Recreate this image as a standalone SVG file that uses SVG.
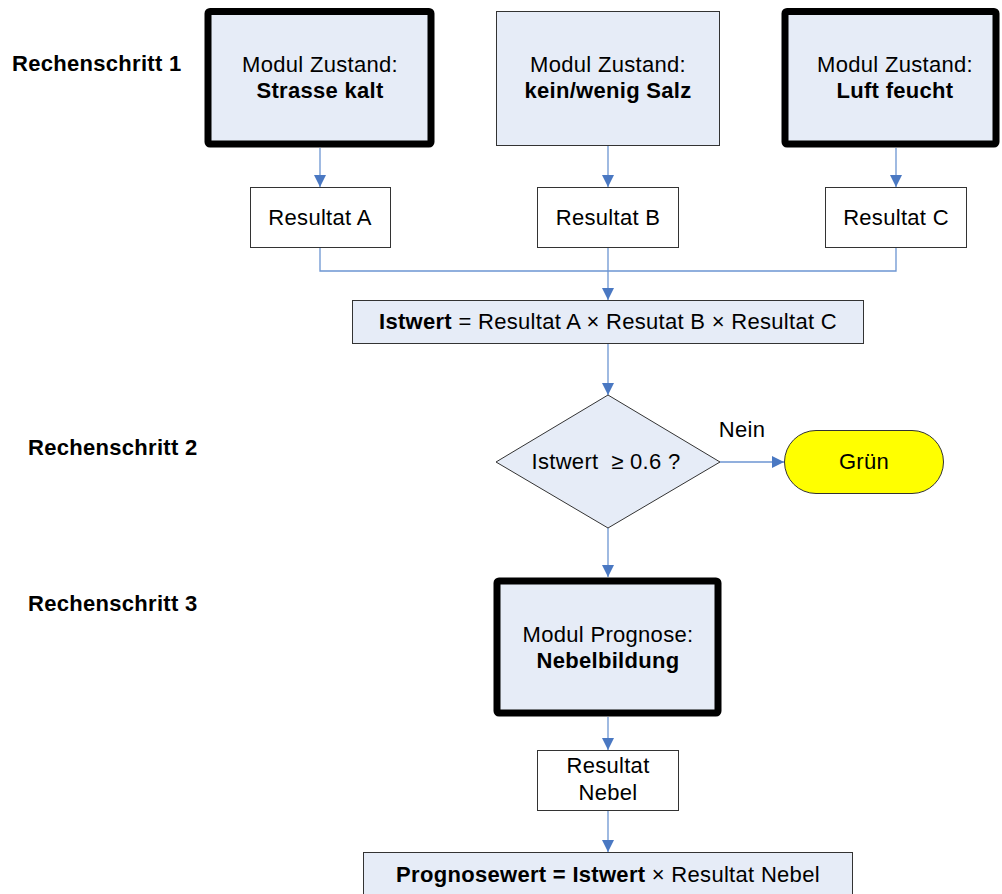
<svg xmlns="http://www.w3.org/2000/svg" width="1002" height="894" viewBox="0 0 1002 894">
  <style>
    .t { font-family: "Liberation Sans", Arial, sans-serif; font-size: 22px; letter-spacing: 0.3px; fill: #000; text-anchor: middle; }
    .b { font-weight: bold; }
    .lbl { font-family: "Liberation Sans", Arial, sans-serif; font-size: 22px; letter-spacing: 0.3px; font-weight: bold; fill: #000; }
    .mod { fill: #E6ECF7; stroke: #000; stroke-width: 7; stroke-linejoin: round; }
    .box { fill: #E6ECF7; stroke: #333; stroke-width: 1; }
    .res { fill: #FFFFFF; stroke: #333; stroke-width: 1; }
    .con { fill: none; stroke: #6C95D2; stroke-width: 1.3; }
  </style>
  <defs>
    <marker id="arr" viewBox="0 0 12 12" refX="12" refY="6" markerWidth="12" markerHeight="12" markerUnits="userSpaceOnUse" orient="auto">
      <path d="M0,0 L12,6 L0,12 z" fill="#4A78C2"/>
    </marker>
  </defs>

  <rect width="1002" height="894" fill="#FFFFFF"/>

  <!-- step labels -->
  <text class="lbl" x="12" y="71">Rechenschritt 1</text>
  <text class="lbl" x="28" y="455">Rechenschritt 2</text>
  <text class="lbl" x="28" y="611">Rechenschritt 3</text>

  <!-- connectors -->
  <g id="connectors">
    <line class="con" x1="320" y1="148" x2="320" y2="187" marker-end="url(#arr)"/>
    <line class="con" x1="608" y1="146" x2="608" y2="187" marker-end="url(#arr)"/>
    <line class="con" x1="896" y1="148" x2="896" y2="187" marker-end="url(#arr)"/>
    <polyline class="con" points="320,247 320,271 896,271 896,247"/>
    <line class="con" x1="608" y1="247" x2="608" y2="300" marker-end="url(#arr)"/>
    <line class="con" x1="608" y1="343" x2="608" y2="395" marker-end="url(#arr)"/>
    <line class="con" x1="720" y1="462" x2="784" y2="462" marker-end="url(#arr)"/>
    <line class="con" x1="608" y1="528" x2="608" y2="577" marker-end="url(#arr)"/>
    <line class="con" x1="608" y1="717" x2="608" y2="750" marker-end="url(#arr)"/>
    <line class="con" x1="608" y1="811" x2="608" y2="852" marker-end="url(#arr)"/>
    <text class="t" x="742" y="437">Nein</text>
  </g>

  <g id="modul-strasse">
    <rect class="mod" x="208" y="11.5" width="223" height="132.5" rx="2"/>
    <text class="t" x="320" y="72">Modul Zustand:</text>
    <text class="t b" x="320" y="98">Strasse kalt</text>
  </g>
  <g id="modul-salz">
    <rect class="box" x="496.5" y="11.5" width="223" height="134"/>
    <text class="t" x="608" y="72">Modul Zustand:</text>
    <text class="t b" x="608" y="98">kein/wenig Salz</text>
  </g>
  <g id="modul-luft">
    <rect class="mod" x="785" y="11.5" width="211" height="132.5" rx="2"/>
    <text class="t" x="895" y="72">Modul Zustand:</text>
    <text class="t b" x="895" y="98">Luft feucht</text>
  </g>

  <g id="resultat-a">
    <rect class="res" x="250.5" y="187.5" width="140" height="60"/>
    <text class="t" x="320" y="225">Resultat A</text>
  </g>
  <g id="resultat-b">
    <rect class="res" x="537.5" y="187.5" width="141" height="60"/>
    <text class="t" x="608" y="225">Resultat B</text>
  </g>
  <g id="resultat-c">
    <rect class="res" x="825.5" y="187.5" width="141" height="60"/>
    <text class="t" x="896" y="225">Resultat C</text>
  </g>

  <g id="istwert">
    <rect class="box" x="352.5" y="300.5" width="511" height="43"/>
    <text class="t" x="608" y="329"><tspan class="b">Istwert</tspan> = Resultat A × Resutat B × Resultat C</text>
  </g>

  <g id="entscheidung">
    <polygon class="box" points="608,395 720,462 608,528 496,462"/>
    <text class="t" x="606" y="469">Istwert &#160;≥ 0.6 ?</text>
  </g>

  <g id="gruen">
    <rect x="784.5" y="430.5" width="159" height="63" rx="31.5" fill="#FFFF00" stroke="#333" stroke-width="1"/>
    <text class="t" x="864" y="469">Grün</text>
  </g>

  <g id="modul-prognose">
    <rect class="mod" x="497" y="581" width="221" height="132" rx="2"/>
    <text class="t" x="608" y="642">Modul Prognose:</text>
    <text class="t b" x="608" y="668">Nebelbildung</text>
  </g>

  <g id="resultat-nebel">
    <rect class="res" x="537.5" y="750.5" width="141" height="60"/>
    <text class="t" x="608" y="773">Resultat</text>
    <text class="t" x="608" y="800">Nebel</text>
  </g>

  <g id="prognosewert">
    <rect class="box" x="363.5" y="852.5" width="489" height="50"/>
    <text class="t" x="608" y="882"><tspan class="b">Prognosewert = Istwert</tspan> × Resultat Nebel</text>
  </g>
</svg>
